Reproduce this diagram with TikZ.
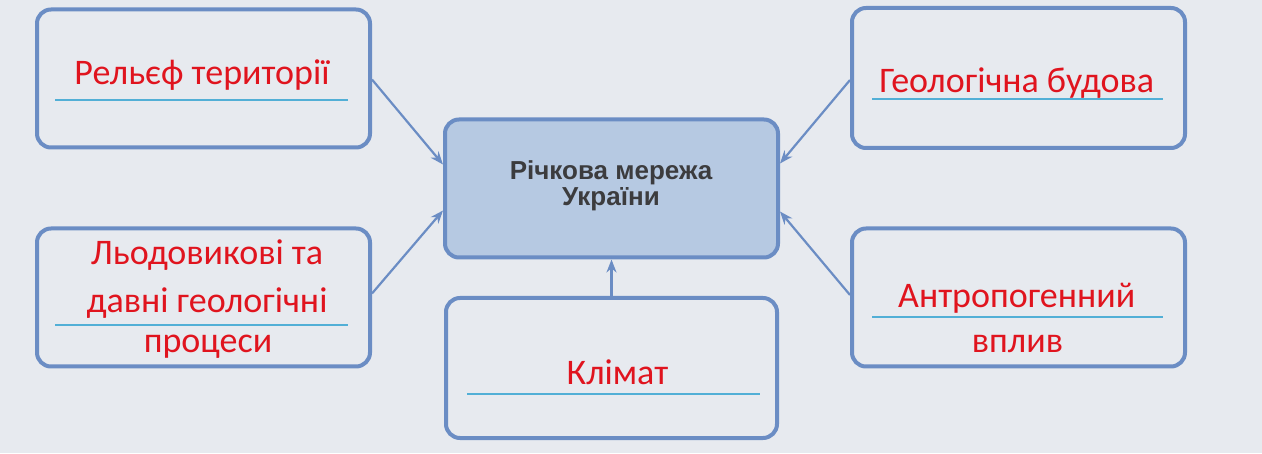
\documentclass[tikz,border=0pt]{standalone}
\usepackage{fontspec}
\setmainfont{Carlito}
\newfontfamily\boldsans{Liberation Sans Bold}
\usetikzlibrary{arrows.meta,calc}
\definecolor{bg}{HTML}{E7EAEF}
\definecolor{edge}{HTML}{6B8DC4}
\definecolor{mainfill}{HTML}{B6C9E2}
\definecolor{redtxt}{HTML}{E0141E}
\definecolor{uline}{HTML}{52AFD6}
\definecolor{darktxt}{HTML}{3C3C3E}
\tikzset{
  x=1pt,y=1pt,
  box/.style={draw=edge,line width=4pt,rounded corners=14pt,minimum width=333pt,minimum height=138pt,inner sep=0pt},
  redlbl/.style={text=redtxt,font=\fontsize{36}{38}\selectfont,anchor=base,inner sep=0pt},
  ctrlbl/.style={text=darktxt,font=\boldsans\fontsize{26}{28}\selectfont,anchor=base,inner sep=0pt},
  underl/.style={draw=uline,line width=1.5pt},
  conn/.style={draw=edge,line width=2.2pt,-{Stealth[length=13pt,width=10pt]}},
}
\begin{document}
\begin{tikzpicture}
\fill[bg] (0,0) rectangle (1262,453);
\useasboundingbox (0,0) rectangle (1262,453);
% boxes
\node[box] (b1) at (203.5,374.5) {};
\node[box] (b2) at (203.5,155.5) {};
\node[box,fill=mainfill] (c) at (611.5,264.5) {};
\node[box,minimum width=331pt,minimum height=140pt] (b3) at (611.5,85) {};
\node[box,minimum height=140pt] (b4) at (1018.5,375) {};
\node[box] (b5) at (1018.5,155.5) {};
% texts
\node[redlbl] (t1) at (202,368) {Рельєф території};
\draw[underl] (55,353) -- (348,353);
\node[redlbl] (t2a) at (207,188) {Льодовикові та};
\node[redlbl] (t2b) at (207,140) {давні геологічні};
\draw[underl] (55,128) -- (348,128);
\node[redlbl] (t2c) at (208,100) {процеси};
\node[redlbl] (t3) at (617.5,69) {Клімат};
\draw[underl] (467,59) -- (760,59);
\node[redlbl] (t4) at (1016.7,360) {Геологічна будова};
\draw[underl] (872,354) -- (1163,354);
\node[redlbl] (t5a) at (1016.7,145) {Антропогенний};
\draw[underl] (872,136) -- (1163,136);
\node[redlbl] (t5b) at (1017.5,100) {вплив};
\node[ctrlbl] (ct1) at (611,273) {Річкова мережа};
\node[ctrlbl] (ct2) at (611,247) {України};
% connectors
\draw[conn] ([yshift=-1pt]b1.east) -- ([yshift=24pt]c.west);
\draw[conn] ([yshift=4pt]b2.east) -- ([yshift=-22pt]c.west);
\draw[conn] ([yshift=-2pt]b4.west) -- ([yshift=25pt]c.east);
\draw[conn] ([yshift=2.5pt]b5.west) -- ([yshift=-23pt]c.east);
\draw[conn] (b3.north) -- (c.south);
\end{tikzpicture}
\end{document}
